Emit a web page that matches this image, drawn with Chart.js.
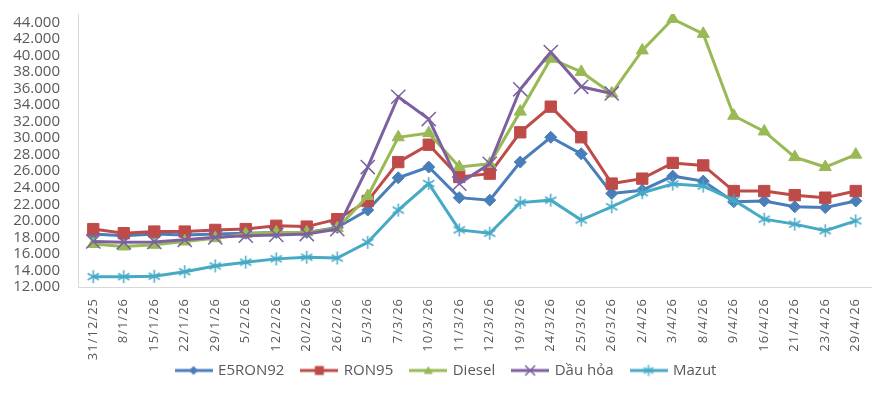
<!DOCTYPE html>
<html>
<head>
<meta charset="utf-8">
<script src="https://cdn.jsdelivr.net/npm/chart.js@4"></script>
<style>
  body { margin: 0; background: #fff; }
</style>
</head>
<body>
<canvas id="myChart" width="887" height="393"></canvas>
<script>
const labels = ["31/12/25", "8/1/26", "15/1/26", "22/1/26", "29/1/26", "5/2/26", "12/2/26", "20/2/26", "26/2/26",
  "5/3/26", "7/3/26", "10/3/26", "11/3/26", "12/3/26", "19/3/26", "24/3/26", "25/3/26", "26/3/26",
  "2/4/26", "3/4/26", "8/4/26", "9/4/26", "16/4/26", "21/4/26", "23/4/26", "29/4/26"];

const e5ron92 = [18400, 18200, 18400, 18300, 18400, 18500, 18600, 18600, 19200, 21300, 25200, 26500, 22800,
  22500, 27100, 30100, 28100, 23300, 23700, 25400, 24800, 22300, 22400, 21700, 21600, 22400];
const ron95 = [19000, 18500, 18700, 18700, 18900, 19000, 19400, 19300, 20200, 22400, 27100, 29200, 25300,
  25700, 30700, 33800, 30100, 24500, 25100, 27000, 26700, 23600, 23600, 23100, 22800, 23600];
const diesel = [17200, 16900, 17100, 17500, 17900, 18400, 18600, 18600, 19100, 23000, 30100, 30600, 26500,
  26900, 33200, 39600, 38000, 35400, 40600, 44400, 42600, 32700, 30800, 27700, 26500, 28000];
const dauHoa = [17500, 17400, 17450, 17700, 18000, 18200, 18300, 18400, 19000, 26500, 35000, 32300, 24500,
  26900, 35900, 40400, 36200, 35400, null, null, null, null, null, null, null, null];
const mazut = [13250, 13250, 13300, 13850, 14550, 15000, 15400, 15600, 15500, 17400, 21300, 24500, 18900,
  18500, 22200, 22500, 20100, 21700, 23400, 24450, 24200, 22500, 20200, 19600, 18800, 20000];

const yTicks = [12000, 14000, 16000, 18000, 20000, 22000, 24000, 26000, 28000, 30000, 32000, 34000,
  36000, 38000, 40000, 42000, 44000];

const colors = ["#4a7ebb", "#be4b48", "#98b954", "#7d60a0", "#46aac5"];
const seriesNames = ["E5RON92", "RON95", "Diesel", "Dầu hỏa", "Mazut"];

// excel style asterisk marker (vertical bar + X)
function starMarker(color, size) {
  const c = document.createElement("canvas");
  c.width = size; c.height = size;
  const ctx = c.getContext("2d");
  const m = size / 2;
  const r = size / 2 - 1;
  ctx.strokeStyle = color;
  ctx.lineWidth = 1.5;
  ctx.beginPath();
  ctx.moveTo(m, m - r); ctx.lineTo(m, m + r);
  ctx.moveTo(m - r * 0.87, m - r * 0.5); ctx.lineTo(m + r * 0.87, m + r * 0.5);
  ctx.moveTo(m - r * 0.87, m + r * 0.5); ctx.lineTo(m + r * 0.87, m - r * 0.5);
  ctx.stroke();
  return c;
}

function drawMarker(ctx, kind, color, x, y, r) {
  ctx.fillStyle = color;
  ctx.strokeStyle = color;
  ctx.lineWidth = 1.5;
  ctx.beginPath();
  if (kind === "diamond") {
    ctx.moveTo(x, y - r); ctx.lineTo(x + r, y); ctx.lineTo(x, y + r); ctx.lineTo(x - r, y); ctx.closePath(); ctx.fill();
  } else if (kind === "square") {
    ctx.rect(x - r, y - r, 2 * r, 2 * r); ctx.fill();
  } else if (kind === "triangle") {
    ctx.moveTo(x, y - r); ctx.lineTo(x + r, y + r * 0.8); ctx.lineTo(x - r, y + r * 0.8); ctx.closePath(); ctx.fill();
  } else if (kind === "x") {
    ctx.moveTo(x - r, y - r); ctx.lineTo(x + r, y + r);
    ctx.moveTo(x - r, y + r); ctx.lineTo(x + r, y - r); ctx.stroke();
  }
}

function legendIcon(i, kind) {
  const c = document.createElement("canvas");
  c.width = 38; c.height = 16;
  const ctx = c.getContext("2d");
  ctx.strokeStyle = colors[i];
  ctx.lineWidth = 3;
  ctx.beginPath(); ctx.moveTo(0, 8); ctx.lineTo(38, 8); ctx.stroke();
  if (kind === "star") {
    ctx.drawImage(starMarker(colors[i], 13), 19 - 6.5, 8 - 6.5);
  } else {
    drawMarker(ctx, kind, colors[i], 19, 8, kind === "x" ? 5 : 4.5);
  }
  return c;
}

const legendIcons = [
  legendIcon(0, "diamond"),
  legendIcon(1, "square"),
  legendIcon(2, "triangle"),
  legendIcon(3, "x"),
  legendIcon(4, "star")
];

// tick labels are allowed outside their axis box; x labels get a little letter spacing
const looseLabels = {
  id: "looseLabels",
  beforeDraw(chart) {
    const xs = chart.scales.x;
    const ys = chart.scales.y;
    if (xs._loose) return;
    xs._computeLabelArea = () => undefined;
    ys._computeLabelArea = () => undefined;
    const orig = xs.drawLabels.bind(xs);
    xs.drawLabels = function (area) {
      chart.ctx.save();
      chart.ctx.letterSpacing = "1px";
      orig(area);
      chart.ctx.restore();
    };
    xs._loose = true;
  }
};

Chart.defaults.font.family = "'Open Sans', sans-serif";
Chart.defaults.color = "#595959";

const ctx = document.getElementById("myChart").getContext("2d");
const myChart = new Chart(ctx, {
  type: "line",
  data: {
    labels: labels,
    datasets: [
      {
        label: seriesNames[0], data: e5ron92, order: 4,
        borderColor: colors[0], backgroundColor: colors[0], borderWidth: 3,
        pointStyle: "rectRot", pointRadius: 6, pointBorderWidth: 1
      },
      {
        label: seriesNames[1], data: ron95, order: 3,
        borderColor: colors[1], backgroundColor: colors[1], borderWidth: 3,
        pointStyle: "rect", pointRadius: 8, pointBorderWidth: 1
      },
      {
        label: seriesNames[2], data: diesel, order: 2,
        borderColor: colors[2], backgroundColor: colors[2], borderWidth: 3,
        pointStyle: "triangle", pointRadius: 7, pointBorderWidth: 1
      },
      {
        label: seriesNames[3], data: dauHoa, order: 1,
        borderColor: colors[3], backgroundColor: colors[3], borderWidth: 3,
        pointStyle: "crossRot", pointRadius: 10, pointBorderWidth: 1.5
      },
      {
        label: seriesNames[4], data: mazut, order: 0,
        borderColor: colors[4], backgroundColor: colors[4], borderWidth: 3,
        pointStyle: starMarker(colors[4], 15), pointRadius: 7
      }
    ]
  },
  options: {
    responsive: false,
    animation: false,
    layout: { padding: { top: 14, right: 16, bottom: 5, left: 22 } },
    scales: {
      x: {
        offset: true,
        grid: { display: false, drawTicks: false },
        border: { display: true, color: "#d9d9d9", width: 1 },
        ticks: {
          autoSkip: false, maxRotation: 90, minRotation: 90, padding: 11,
          font: { size: 13 }, color: "#595959"
        },
        afterFit: (s) => { s.height = 58; }
      },
      y: {
        min: 12000,
        max: 45000,
        grid: { display: false, drawTicks: false },
        border: { display: true, color: "#d9d9d9", width: 1 },
        afterBuildTicks: (s) => { s.ticks = yTicks.map((v) => ({ value: v })); },
        ticks: {
          autoSkip: false,
          padding: 18,
          font: { size: 15 }, color: "#595959",
          callback: (v) => (v / 1000).toFixed(3)
        },
        afterFit: (s) => {
          s.width = 56;
          s.paddingTop = 0;
          s.paddingBottom = 0;
        }
      }
    },
    plugins: {
      legend: {
        position: "bottom",
        labels: {
          usePointStyle: true,
          pointStyleWidth: 34,
          padding: 18,
          font: { size: 15 },
          color: "#595959",
          sort: (a, b) => a.datasetIndex - b.datasetIndex,
          generateLabels(chart) {
            const items = Chart.defaults.plugins.legend.labels.generateLabels(chart);
            items.forEach((it) => { it.pointStyle = legendIcons[it.datasetIndex]; });
            return items;
          }
        }
      },
      tooltip: { enabled: false }
    }
  },
  plugins: [looseLabels]
});
</script>
</body>
</html>
